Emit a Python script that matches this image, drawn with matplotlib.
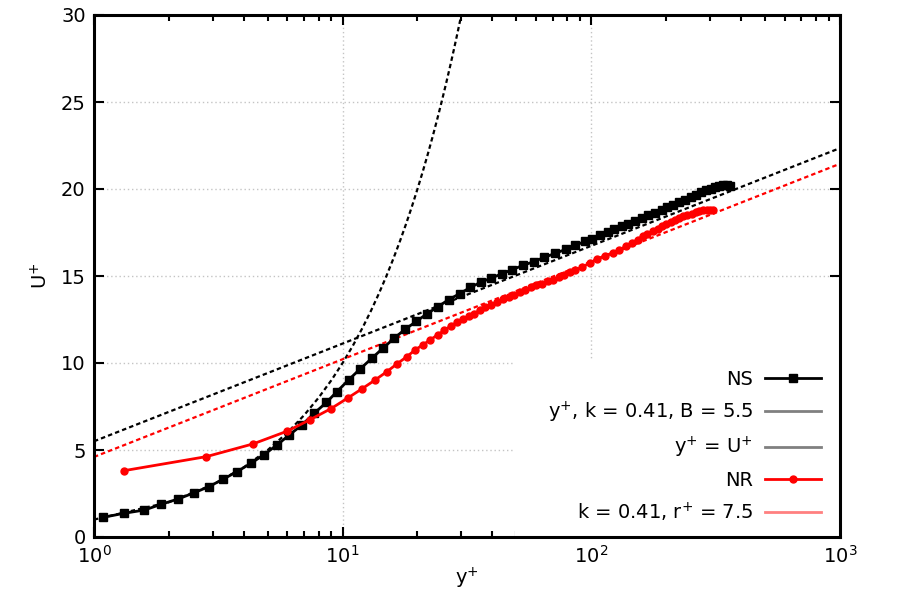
#Wall law comparison plot: smooth wall (NS) vs rough wall (NR) velocity profiles

#Set up. Import Libraries
import matplotlib
matplotlib.use('Agg')
import matplotlib.pyplot as plt
from matplotlib.lines import Line2D
from matplotlib.patches import Rectangle

#Step1. Data
#NS profile (y+, U+)
ns_yplus = [1.089, 1.318, 1.596, 1.863, 2.186, 2.535, 2.893, 3.306, 3.764, 4.283,
            4.814, 5.448, 6.107, 6.868, 7.696, 8.601, 9.495, 10.57, 11.78, 13.13,
            14.54, 16.14, 17.87, 19.79, 21.84, 24.09, 26.67, 29.53, 32.61, 36.01,
            39.60, 43.73, 47.97, 53.11, 58.60, 64.67, 71.61, 78.77, 86.15, 94.52,
            100.6, 107.9, 116.2, 123.9, 132.7, 141.1, 150.1, 159.7, 169.8, 180.6,
            192.2, 202.4, 214.0, 226.2, 238.5, 251.3, 264.0, 275.7, 289.6, 302.5,
            314.8, 327.6, 339.9, 350.8, 361.6]
ns_uplus = [1.13, 1.36, 1.55, 1.88, 2.19, 2.55, 2.89, 3.32, 3.76, 4.24,
            4.72, 5.29, 5.87, 6.44, 7.12, 7.73, 8.36, 9.03, 9.67, 10.28,
            10.86, 11.43, 11.95, 12.39, 12.83, 13.22, 13.64, 13.98, 14.34, 14.65,
            14.88, 15.13, 15.36, 15.61, 15.82, 16.07, 16.30, 16.53, 16.76, 16.99,
            17.15, 17.34, 17.53, 17.70, 17.85, 18.01, 18.18, 18.34, 18.49, 18.64,
            18.80, 18.95, 19.09, 19.23, 19.39, 19.55, 19.68, 19.81, 19.93, 20.02,
            20.12, 20.20, 20.24, 20.24, 20.20]

#NR profile (y+, U+)
nr_yplus = [1.318, 2.833, 4.363, 5.977, 7.369, 8.983, 10.47, 11.97, 13.53, 15.09,
            16.54, 18.15, 19.60, 21.05, 22.52, 24.09, 25.63, 27.28, 28.84, 30.47,
            32.09, 33.61, 35.53, 37.46, 39.49, 41.75, 44.13, 46.48, 48.99, 51.79,
            54.25, 57.19, 60.06, 63.31, 66.68, 70.10, 73.83, 77.32, 81.74, 86.15,
            91.66, 99.0, 105.9, 113.7, 121.7, 129.8, 137.7, 145.6, 153.4, 161.3,
            168.2, 176.9, 184.6, 192.2, 200.0, 208.9, 217.4, 226.2, 234.8, 243.6,
            253.7, 263.3, 272.2, 282.5, 291.5, 300.6, 309.9]
nr_uplus = [3.81, 4.62, 5.35, 6.08, 6.73, 7.38, 7.98, 8.52, 9.03, 9.51,
            9.95, 10.37, 10.76, 11.05, 11.33, 11.62, 11.87, 12.14, 12.33, 12.53,
            12.68, 12.83, 13.02, 13.22, 13.35, 13.50, 13.68, 13.79, 13.92, 14.06,
            14.21, 14.34, 14.46, 14.56, 14.69, 14.79, 14.92, 15.03, 15.21, 15.32,
            15.52, 15.75, 15.98, 16.17, 16.32, 16.51, 16.70, 16.90, 17.09, 17.28,
            17.43, 17.57, 17.72, 17.85, 18.01, 18.12, 18.24, 18.34, 18.43, 18.53,
            18.58, 18.66, 18.72, 18.77, 18.81, 18.81, 18.77]

#log law lines are straight on a semilog axis, so the two end points are enough
log_yplus = [1, 1000]
log_u_ns = [5.5, 22.35]
log_u_nr = [4.6, 21.45]

#viscous sublayer U+ = y+
visc_yplus = [1, 2, 3, 4, 5, 6, 7, 8, 9, 10, 11, 12, 13, 14, 15, 16, 17, 18, 19, 20,
              21, 22, 23, 24, 25, 26, 27, 28, 29, 30, 31]

legend_labels = ['NS', 'y$^{+}$, k = 0.41, B = 5.5', 'y$^{+}$ = U$^{+}$',
                 'NR', 'k = 0.41, r$^{+}$ = 7.5']

#Step2. Figure
plt.rcParams['font.size'] = 14
plt.rcParams['mathtext.default'] = 'regular'
fig = plt.figure(figsize=(9, 6), dpi=100)
ax = fig.add_axes([0.1044, 0.105, 0.8289, 0.870])

dots = (0, (2, 1.4))
ax.plot(log_yplus, log_u_ns, color='black', lw=1.6, ls=dots)
ax.plot(visc_yplus, visc_yplus, color='black', lw=1.6, ls=dots)
ax.plot(log_yplus, log_u_nr, color='red', lw=1.6, ls=dots)
ax.plot(ns_yplus, ns_uplus, color='black', lw=2, marker='s', ms=5.5)
ax.plot(nr_yplus, nr_uplus, color='red', lw=2, marker='o', ms=5)

#Step3. axes
ax.set_xscale('log')
ax.set_xlim(1, 1000)
ax.set_ylim(0, 30)
ax.set_yticks([0, 5, 10, 15, 20, 25, 30])
ax.set_xlabel('y$^{+}$', labelpad=-1)
ax.set_ylabel('U$^{+}$', labelpad=7)
ax.grid(True, which='major', color='#c4c4c4', ls=(0, (1, 2)), lw=1)
ax.set_axisbelow(True)
for s in ax.spines.values():
    s.set_linewidth(2.2)
ax.tick_params(which='both', direction='in', top=True, right=True, width=1.5)
ax.tick_params(which='major', length=7, pad=6)
ax.tick_params(which='minor', length=4)

#white key area hides the grid behind the legend (gnuplot style)
ax.add_patch(Rectangle((0.564, 0), 0.436, 0.339, transform=ax.transAxes,
                       facecolor='white', edgecolor='none', zorder=0.8))

#Step4. legend, labels on the left and grey/pink sample lines like the original
handles = [Line2D([], [], color='black', lw=2, marker='s', ms=5.5),
           Line2D([], [], color='#808080', lw=2),
           Line2D([], [], color='#808080', lw=2),
           Line2D([], [], color='red', lw=2, marker='o', ms=5),
           Line2D([], [], color='#ff8080', lw=2)]
leg = ax.legend(handles, legend_labels, loc='lower right', markerfirst=False,
                numpoints=1, handlelength=2.9, handletextpad=0.6, labelspacing=0.54,
                borderpad=0, bbox_to_anchor=(0.988, 0.007), frameon=False)

plt.savefig('out.png', dpi=100)
